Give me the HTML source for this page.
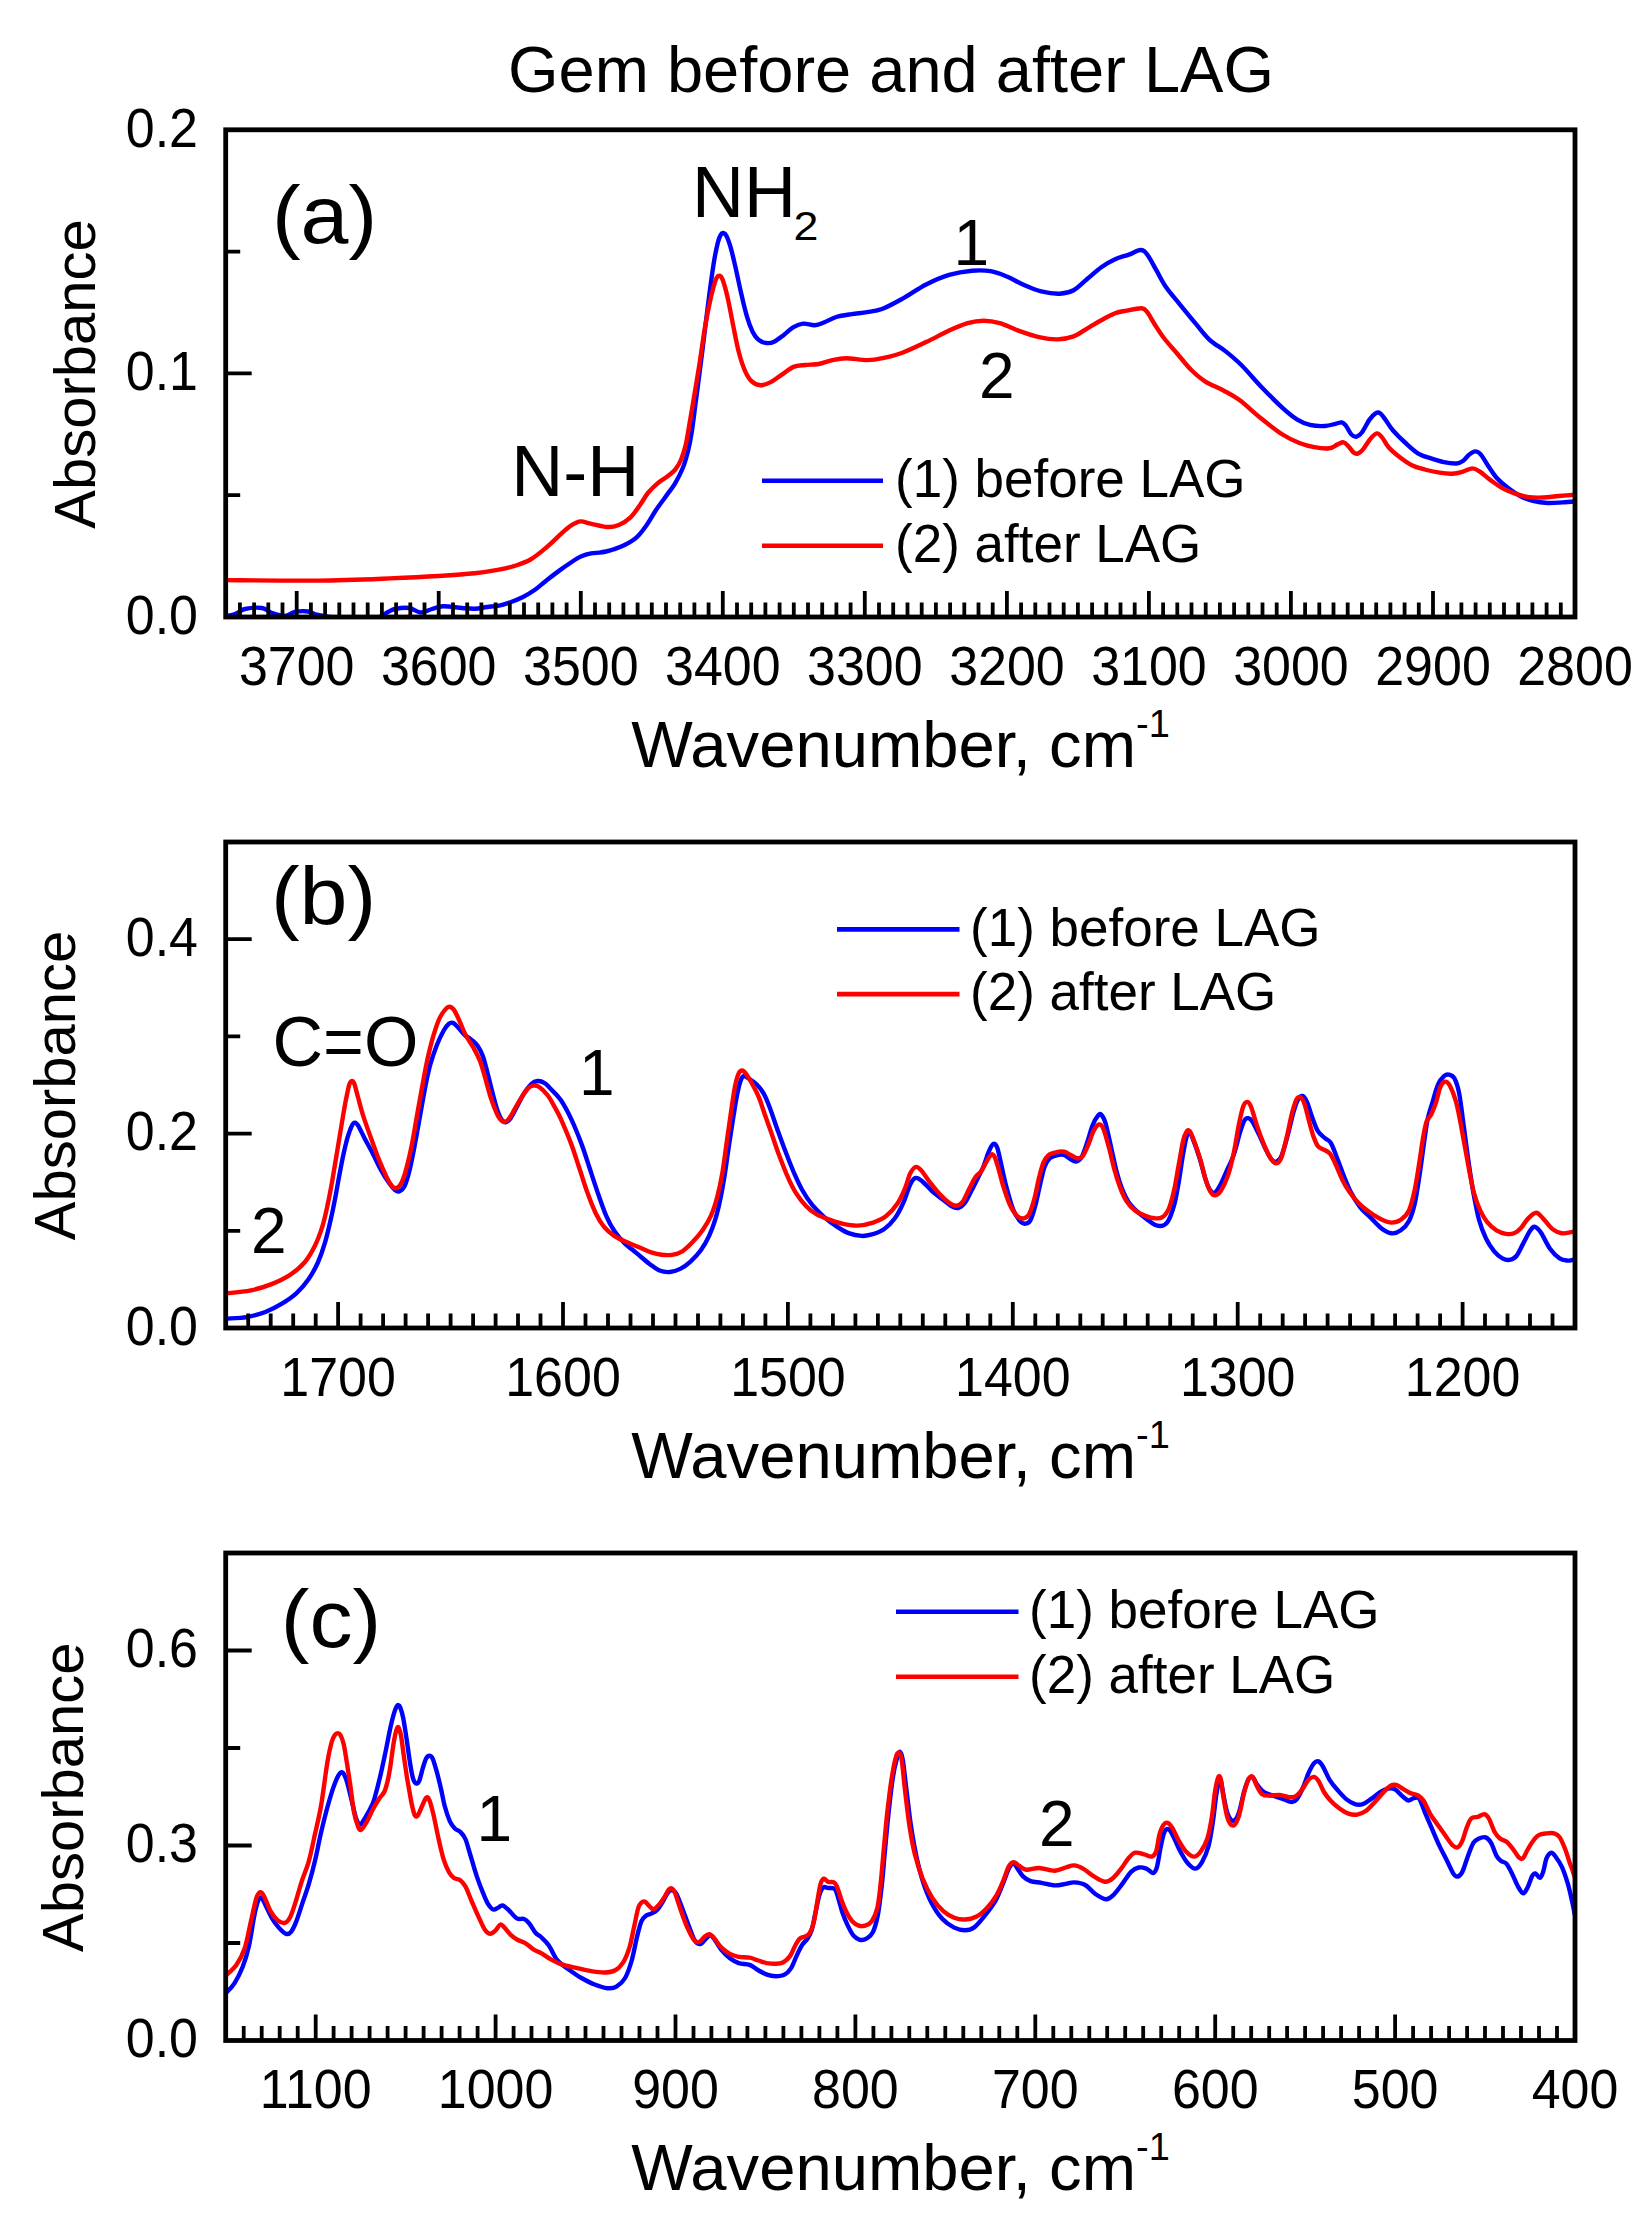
<!DOCTYPE html>
<html lang="en"><head><meta charset="utf-8"><title>Gem before and after LAG</title>
<style>html,body{margin:0;padding:0;background:#fff}body{width:1649px;height:2224px;overflow:hidden}svg{display:block}text{font-family:"Liberation Sans", sans-serif;fill:#000}</style></head><body>
<svg width="1649" height="2224" viewBox="0 0 1649 2224">
<rect width="1649" height="2224" fill="#fff"/>
<clipPath id="clip1"><rect x="225.7" y="129.8" width="1349.3" height="489.2"/></clipPath>
<g clip-path="url(#clip1)" fill="none" stroke-width="4.4" stroke-linejoin="round" stroke-linecap="round">
<path stroke="#0000ff" d="M222.0 617.0C224.2 616.5 231.2 615.3 235.0 614.0C238.8 612.7 240.5 610.0 245.0 609.0C249.5 608.0 257.5 607.3 262.0 608.0C266.5 608.7 268.2 611.7 272.0 613.0C275.8 614.3 281.2 616.2 285.0 616.0C288.8 615.8 291.2 612.8 295.0 612.0C298.8 611.2 304.2 611.0 308.0 611.5C311.8 612.0 312.7 613.9 318.0 615.0C323.3 616.1 330.5 617.5 340.0 618.0C349.5 618.5 367.0 619.0 375.0 618.0C383.0 617.0 384.7 613.5 388.0 612.0C391.3 610.5 391.5 609.7 395.0 609.0C398.5 608.3 404.7 607.4 409.0 608.0C413.3 608.6 417.2 612.3 421.0 612.5C424.8 612.7 428.3 610.0 432.0 609.0C435.7 608.0 438.0 606.5 443.0 606.3C448.0 606.1 456.7 607.6 462.0 608.0C467.3 608.4 470.8 608.9 475.0 608.7C479.2 608.5 483.0 607.5 487.0 607.0C491.0 606.5 495.0 606.4 499.0 605.6C503.0 604.8 507.0 603.4 511.0 602.0C515.0 600.6 519.0 599.0 523.0 597.0C527.0 595.0 531.0 592.6 535.0 589.8C539.0 587.0 542.9 583.2 547.0 580.0C551.1 576.8 555.5 573.4 559.6 570.4C563.7 567.4 568.1 564.4 571.7 562.0C575.3 559.6 578.2 557.7 581.4 556.3C584.6 554.9 588.0 554.0 591.0 553.4C594.0 552.8 596.9 552.9 599.4 552.6C601.9 552.3 603.7 552.0 606.0 551.5C608.3 551.0 609.9 550.6 613.0 549.5C616.1 548.4 620.7 547.0 624.6 545.0C628.5 543.0 632.7 540.9 636.3 537.7C639.9 534.5 642.8 530.5 646.0 526.0C649.2 521.5 652.5 515.4 655.7 510.5C658.9 505.6 662.2 501.4 665.4 496.9C668.6 492.4 672.2 488.1 675.1 483.3C678.0 478.5 680.8 473.0 682.9 467.8C685.0 462.6 686.2 458.1 687.7 452.3C689.2 446.5 690.3 441.0 691.6 432.9C692.9 424.8 694.2 413.5 695.5 403.8C696.8 394.1 697.8 386.0 699.3 374.7C700.8 363.4 702.6 348.8 704.2 335.8C705.8 322.9 707.4 309.3 709.0 297.0C710.6 284.7 712.4 271.2 713.9 262.1C715.4 253.1 716.7 247.2 717.8 242.7C718.9 238.2 719.8 236.5 720.7 234.9C721.6 233.3 722.2 232.8 723.2 233.0C724.2 233.2 725.3 233.6 726.5 235.9C727.7 238.2 728.9 241.6 730.4 246.6C731.9 251.6 733.4 258.2 735.2 266.0C737.0 273.8 739.2 284.7 741.1 293.1C743.0 301.5 745.0 309.9 746.9 316.4C748.8 322.9 750.8 328.1 752.7 332.0C754.6 335.9 756.2 337.9 758.5 339.7C760.8 341.5 763.7 342.7 766.3 343.0C768.9 343.3 771.2 343.1 774.1 341.7C777.0 340.3 780.6 337.3 783.8 334.9C787.0 332.5 790.3 329.0 793.5 327.1C796.7 325.2 799.7 323.9 803.2 323.6C806.8 323.3 811.2 325.4 814.8 325.2C818.3 325.0 820.9 323.7 824.5 322.3C828.1 320.9 831.7 318.4 836.2 317.0C840.7 315.6 846.5 314.9 851.7 314.1C856.9 313.3 862.0 313.1 867.2 312.2C872.4 311.3 876.7 311.0 882.7 308.7C888.7 306.4 895.8 302.4 903.0 298.4C910.2 294.4 918.4 288.4 926.1 284.5C933.8 280.6 941.4 277.2 949.1 274.9C956.8 272.6 965.3 271.3 972.2 270.7C979.1 270.1 984.8 270.2 990.6 271.2C996.4 272.2 1001.4 274.3 1006.8 276.5C1012.2 278.7 1017.1 282.0 1022.9 284.5C1028.7 287.0 1035.1 289.9 1041.3 291.4C1047.5 292.9 1054.4 293.9 1059.8 293.7C1065.2 293.5 1069.0 292.8 1073.6 290.3C1078.2 287.8 1082.8 282.7 1087.4 278.8C1092.0 274.9 1096.7 270.5 1101.3 267.2C1105.9 263.9 1110.5 261.3 1115.1 259.2C1119.7 257.1 1124.7 256.1 1128.9 254.6C1133.1 253.1 1137.3 250.0 1140.4 250.0C1143.5 250.0 1144.6 251.2 1147.3 254.6C1150.0 258.1 1153.5 265.3 1156.6 270.7C1159.7 276.1 1162.0 281.2 1165.8 286.8C1169.6 292.4 1174.6 298.0 1179.6 304.1C1184.6 310.2 1190.7 317.8 1195.7 323.7C1200.7 329.6 1204.6 335.2 1209.6 339.8C1214.6 344.4 1220.3 347.1 1225.7 351.4C1231.1 355.7 1235.9 359.6 1241.8 365.5C1247.7 371.4 1254.4 379.6 1261.2 386.7C1268.0 393.8 1276.5 402.4 1282.5 407.9C1288.5 413.4 1292.7 416.8 1297.3 419.6C1301.9 422.4 1305.4 423.8 1310.0 424.9C1314.6 426.0 1320.7 426.2 1324.9 426.0C1329.2 425.8 1332.7 424.4 1335.5 423.8C1338.3 423.2 1340.1 422.0 1341.9 422.4C1343.7 422.8 1344.5 424.0 1346.1 426.0C1347.7 428.0 1349.6 432.7 1351.4 434.5C1353.2 436.3 1354.9 437.0 1356.7 436.6C1358.5 436.2 1360.0 435.1 1362.1 432.3C1364.2 429.5 1367.2 422.8 1369.5 419.6C1371.8 416.4 1374.1 414.3 1375.9 413.2C1377.7 412.1 1378.5 412.1 1380.1 413.2C1381.7 414.3 1383.3 416.8 1385.4 419.6C1387.5 422.4 1389.4 426.3 1392.8 430.2C1396.2 434.1 1401.3 439.1 1405.6 443.0C1409.8 446.9 1414.1 451.0 1418.3 453.6C1422.5 456.2 1426.8 457.0 1431.0 458.4C1435.2 459.8 1439.5 461.2 1443.8 462.1C1448.0 463.0 1453.3 463.7 1456.5 463.5C1459.7 463.3 1460.8 462.5 1462.9 461.0C1465.0 459.5 1467.2 456.2 1469.3 454.6C1471.3 453.0 1473.3 451.4 1475.2 451.4C1477.1 451.4 1478.7 452.1 1480.9 454.6C1483.1 457.1 1485.8 462.4 1488.4 466.3C1491.1 470.2 1493.6 474.5 1496.8 478.0C1500.0 481.5 1503.6 484.5 1507.5 487.5C1511.4 490.5 1516.0 493.8 1520.2 496.0C1524.4 498.2 1528.3 499.7 1532.9 500.9C1537.5 502.1 1542.8 502.8 1547.8 503.0C1552.8 503.2 1557.6 502.7 1562.6 502.4C1567.6 502.1 1575.4 501.5 1578.0 501.3"/>
<path stroke="#ff0000" d="M222.0 580.1C237.8 580.2 289.0 580.9 317.0 580.6C345.0 580.3 369.6 579.2 389.8 578.4C410.0 577.6 424.2 576.9 438.3 576.0C452.4 575.1 464.6 574.3 474.7 573.3C484.8 572.2 492.1 571.0 499.0 569.7C505.9 568.4 510.8 567.2 516.0 565.5C521.2 563.8 525.7 562.3 530.5 559.5C535.3 556.7 540.1 552.6 545.0 548.6C549.9 544.6 555.6 538.9 559.6 535.2C563.6 531.6 566.5 528.8 569.3 526.7C572.1 524.6 574.6 523.3 576.6 522.4C578.6 521.5 578.9 521.2 581.4 521.4C583.9 521.6 587.3 522.9 591.6 523.8C595.9 524.7 602.7 526.8 607.2 527.0C611.7 527.2 614.9 526.6 618.8 525.0C622.7 523.4 626.9 520.7 630.5 517.3C634.1 513.9 637.3 508.8 640.2 504.7C643.1 500.6 645.0 496.6 647.9 493.0C650.8 489.4 654.4 486.1 657.6 483.3C660.8 480.6 664.4 478.8 667.3 476.5C670.2 474.2 672.8 472.4 675.1 469.7C677.4 466.9 679.1 464.2 680.9 460.0C682.7 455.8 684.3 450.6 685.8 444.5C687.2 438.4 688.1 431.6 689.6 423.2C691.1 414.8 692.9 403.7 694.5 394.0C696.1 384.3 697.5 376.3 699.3 365.0C701.1 353.7 703.2 337.4 705.2 326.1C707.2 314.8 709.2 304.8 711.0 297.0C712.8 289.2 714.4 283.2 715.8 279.6C717.2 276.1 718.2 275.7 719.3 275.7C720.4 275.7 721.2 276.1 722.6 279.6C724.0 283.2 725.7 289.2 727.5 297.0C729.3 304.8 731.4 316.7 733.3 326.1C735.2 335.5 737.1 345.9 739.1 353.3C741.1 360.8 742.9 366.1 745.0 370.8C747.1 375.5 749.1 379.0 751.7 381.4C754.3 383.8 757.4 385.1 760.5 385.3C763.6 385.5 766.7 384.2 770.2 382.4C773.8 380.6 777.9 377.2 781.8 374.6C785.7 372.0 789.6 368.5 793.5 366.9C797.4 365.3 800.9 365.5 805.1 365.0C809.3 364.5 814.2 364.8 818.7 364.0C823.2 363.2 827.8 361.1 832.3 360.1C836.8 359.1 840.1 358.2 845.9 358.2C851.7 358.2 861.1 360.1 867.2 360.1C873.3 360.1 876.7 359.5 882.7 358.2C888.7 356.9 895.8 355.2 903.0 352.5C910.2 349.8 918.4 345.8 926.1 342.1C933.8 338.5 942.2 333.8 949.1 330.6C956.0 327.5 961.8 324.9 967.6 323.2C973.4 321.5 978.3 320.7 983.7 320.7C989.1 320.7 994.0 321.5 999.8 323.2C1005.6 324.9 1011.8 328.3 1018.3 330.6C1024.8 332.9 1032.5 335.6 1039.0 337.1C1045.5 338.6 1051.7 339.5 1057.5 339.4C1063.3 339.3 1068.6 338.2 1073.6 336.4C1078.6 334.5 1082.8 331.0 1087.4 328.3C1092.0 325.6 1096.7 322.7 1101.3 320.2C1105.9 317.7 1110.9 314.9 1115.1 313.3C1119.3 311.7 1122.2 311.4 1126.6 310.6C1131.0 309.8 1138.1 308.0 1141.6 308.3C1145.0 308.6 1145.2 309.6 1147.3 312.2C1149.4 314.8 1151.6 319.5 1154.3 323.7C1157.0 327.9 1159.7 332.5 1163.5 337.5C1167.3 342.5 1172.7 348.3 1177.3 353.7C1181.9 359.1 1186.5 365.2 1191.1 369.8C1195.7 374.4 1199.6 377.9 1205.0 381.3C1210.4 384.8 1217.7 387.4 1223.4 390.5C1229.2 393.6 1233.2 395.4 1239.5 400.1C1245.8 404.8 1254.0 412.8 1261.2 418.5C1268.4 424.2 1276.1 430.4 1282.5 434.5C1288.9 438.6 1294.1 440.9 1299.4 443.0C1304.7 445.1 1309.3 446.3 1314.3 447.2C1319.3 448.1 1325.3 448.8 1329.2 448.3C1333.1 447.8 1335.2 445.4 1337.6 444.4C1340.0 443.4 1341.8 442.0 1343.6 442.3C1345.4 442.6 1346.6 444.4 1348.3 446.1C1350.0 447.8 1352.0 451.2 1353.6 452.5C1355.2 453.8 1356.2 454.1 1357.8 453.6C1359.4 453.1 1361.0 451.8 1363.1 449.3C1365.2 446.8 1368.2 441.4 1370.5 438.7C1372.8 436.0 1375.0 433.6 1376.9 433.4C1378.9 433.2 1380.2 435.3 1382.2 437.6C1384.2 439.9 1385.8 444.0 1388.6 447.2C1391.4 450.4 1395.3 453.7 1399.2 456.7C1403.1 459.7 1407.7 463.1 1411.9 465.2C1416.2 467.3 1420.1 468.2 1424.7 469.5C1429.3 470.8 1434.9 472.0 1439.5 472.7C1444.1 473.4 1448.4 473.9 1452.3 473.7C1456.2 473.5 1459.6 472.5 1462.9 471.6C1466.2 470.7 1469.6 468.4 1472.4 468.4C1475.2 468.4 1476.9 469.7 1479.9 471.6C1482.9 473.6 1486.6 477.3 1490.5 480.1C1494.4 482.9 1499.0 486.3 1503.2 488.6C1507.4 490.9 1511.7 492.5 1515.9 493.9C1520.2 495.3 1524.1 496.5 1528.7 497.1C1533.3 497.7 1538.5 497.7 1543.5 497.5C1548.5 497.3 1552.7 496.5 1558.4 496.0C1564.2 495.5 1574.7 494.8 1578.0 494.5"/>
</g>
<path d="M239.9 617.0 v-14.5M254.1 617.0 v-14.5M268.3 617.0 v-14.5M282.5 617.0 v-14.5M296.7 617.0 v-26.0M310.9 617.0 v-14.5M325.1 617.0 v-14.5M339.3 617.0 v-14.5M353.5 617.0 v-14.5M367.7 617.0 v-14.5M381.9 617.0 v-14.5M396.1 617.0 v-14.5M410.3 617.0 v-14.5M424.5 617.0 v-14.5M438.7 617.0 v-26.0M453.0 617.0 v-14.5M467.2 617.0 v-14.5M481.4 617.0 v-14.5M495.6 617.0 v-14.5M509.8 617.0 v-14.5M524.0 617.0 v-14.5M538.2 617.0 v-14.5M552.4 617.0 v-14.5M566.6 617.0 v-14.5M580.8 617.0 v-26.0M595.0 617.0 v-14.5M609.2 617.0 v-14.5M623.4 617.0 v-14.5M637.6 617.0 v-14.5M651.8 617.0 v-14.5M666.0 617.0 v-14.5M680.2 617.0 v-14.5M694.4 617.0 v-14.5M708.6 617.0 v-14.5M722.8 617.0 v-26.0M737.0 617.0 v-14.5M751.2 617.0 v-14.5M765.4 617.0 v-14.5M779.6 617.0 v-14.5M793.8 617.0 v-14.5M808.0 617.0 v-14.5M822.2 617.0 v-14.5M836.4 617.0 v-14.5M850.6 617.0 v-14.5M864.8 617.0 v-26.0M879.0 617.0 v-14.5M893.2 617.0 v-14.5M907.5 617.0 v-14.5M921.7 617.0 v-14.5M935.9 617.0 v-14.5M950.1 617.0 v-14.5M964.3 617.0 v-14.5M978.5 617.0 v-14.5M992.7 617.0 v-14.5M1006.9 617.0 v-26.0M1021.1 617.0 v-14.5M1035.3 617.0 v-14.5M1049.5 617.0 v-14.5M1063.7 617.0 v-14.5M1077.9 617.0 v-14.5M1092.1 617.0 v-14.5M1106.3 617.0 v-14.5M1120.5 617.0 v-14.5M1134.7 617.0 v-14.5M1148.9 617.0 v-26.0M1163.1 617.0 v-14.5M1177.3 617.0 v-14.5M1191.5 617.0 v-14.5M1205.7 617.0 v-14.5M1219.9 617.0 v-14.5M1234.1 617.0 v-14.5M1248.3 617.0 v-14.5M1262.5 617.0 v-14.5M1276.7 617.0 v-14.5M1290.9 617.0 v-26.0M1305.1 617.0 v-14.5M1319.3 617.0 v-14.5M1333.5 617.0 v-14.5M1347.7 617.0 v-14.5M1362.0 617.0 v-14.5M1376.2 617.0 v-14.5M1390.4 617.0 v-14.5M1404.6 617.0 v-14.5M1418.8 617.0 v-14.5M1433.0 617.0 v-26.0M1447.2 617.0 v-14.5M1461.4 617.0 v-14.5M1475.6 617.0 v-14.5M1489.8 617.0 v-14.5M1504.0 617.0 v-14.5M1518.2 617.0 v-14.5M1532.4 617.0 v-14.5M1546.6 617.0 v-14.5M1560.8 617.0 v-14.5M225.7 373.4 h26.0M225.7 495.2 h14.5M225.7 251.6 h14.5" stroke="#000" stroke-width="3.8" fill="none"/>
<rect x="225.7" y="129.8" width="1349.3" height="487.2" fill="none" stroke="#000" stroke-width="4.8"/>
<path d="M762 480.7H883" stroke="#0000ff" stroke-width="4.6" fill="none"/>
<path d="M762 545.7H883" stroke="#ff0000" stroke-width="4.6" fill="none"/>
<clipPath id="clip2"><rect x="225.7" y="842.0" width="1349.3" height="488.0"/></clipPath>
<g clip-path="url(#clip2)" fill="none" stroke-width="4.4" stroke-linejoin="round" stroke-linecap="round">
<path stroke="#0000ff" d="M222.0 1318.8C222.7 1318.8 222.1 1318.9 226.2 1318.6C230.3 1318.3 240.3 1318.2 246.8 1317.1C253.3 1316.0 259.5 1314.2 265.4 1312.0C271.2 1309.8 276.8 1306.8 281.9 1303.7C287.0 1300.6 291.8 1297.5 296.3 1293.4C300.8 1289.3 305.1 1284.2 308.7 1279.0C312.3 1273.8 315.1 1268.7 317.9 1262.5C320.6 1256.3 323.0 1249.5 325.2 1241.9C327.4 1234.3 329.6 1224.7 331.3 1217.1C333.0 1209.5 334.1 1203.7 335.5 1196.5C336.9 1189.3 338.2 1181.0 339.6 1173.8C341.0 1166.6 342.3 1159.4 343.7 1153.2C345.1 1147.0 346.4 1141.3 347.8 1136.7C349.2 1132.1 350.8 1127.7 352.0 1125.4C353.2 1123.1 354.0 1122.5 355.1 1122.7C356.2 1122.9 357.1 1123.9 358.6 1126.4C360.1 1128.9 362.0 1133.2 364.3 1137.7C366.6 1142.2 369.9 1147.9 372.6 1153.2C375.4 1158.5 378.1 1164.7 380.8 1169.7C383.6 1174.7 386.7 1179.7 389.1 1183.1C391.5 1186.5 393.6 1188.9 395.3 1190.3C397.0 1191.7 397.9 1192.0 399.4 1191.3C400.9 1190.6 402.8 1189.8 404.5 1186.2C406.2 1182.6 408.0 1176.6 409.7 1169.7C411.4 1162.8 413.1 1153.8 414.8 1144.9C416.5 1136.0 418.3 1125.7 420.0 1116.1C421.7 1106.5 423.5 1095.8 425.2 1087.2C426.9 1078.6 428.4 1071.4 430.3 1064.5C432.2 1057.6 434.3 1051.7 436.5 1046.0C438.7 1040.3 441.6 1034.2 443.7 1030.5C445.8 1026.8 447.3 1025.0 448.9 1023.7C450.4 1022.4 451.5 1022.3 453.0 1022.9C454.5 1023.5 456.2 1025.5 458.1 1027.4C460.0 1029.4 462.1 1032.5 464.3 1034.6C466.5 1036.7 469.3 1037.9 471.5 1039.8C473.7 1041.7 475.8 1043.2 477.7 1046.0C479.6 1048.8 481.2 1051.5 482.9 1056.3C484.6 1061.1 486.3 1068.3 488.0 1074.8C489.7 1081.3 491.6 1089.7 493.2 1095.5C494.8 1101.3 495.9 1106.0 497.3 1109.9C498.7 1113.9 500.0 1117.1 501.4 1119.2C502.8 1121.3 504.1 1122.5 505.6 1122.3C507.2 1122.1 508.8 1120.7 510.7 1118.1C512.6 1115.5 514.7 1110.9 516.9 1106.8C519.1 1102.7 521.7 1097.2 524.1 1093.4C526.5 1089.6 529.1 1086.2 531.3 1084.1C533.5 1082.0 535.3 1081.2 537.5 1081.0C539.7 1080.8 542.6 1081.8 544.7 1083.1C546.8 1084.3 547.6 1085.7 550.3 1088.5C552.9 1091.3 557.2 1094.8 560.6 1099.8C564.0 1104.8 567.5 1111.2 570.9 1118.4C574.3 1125.6 578.1 1134.9 581.2 1143.1C584.3 1151.3 586.8 1159.5 589.5 1167.8C592.2 1176.0 595.0 1184.7 597.7 1192.6C600.5 1200.5 603.2 1208.9 606.0 1215.3C608.8 1221.7 611.1 1226.1 614.2 1230.7C617.3 1235.3 620.7 1239.3 624.5 1243.1C628.3 1246.9 632.8 1250.0 636.9 1253.4C641.0 1256.8 645.5 1260.9 649.3 1263.7C653.1 1266.5 656.2 1269.1 659.6 1270.5C663.0 1271.9 666.5 1272.3 669.9 1272.0C673.3 1271.7 676.8 1270.6 680.2 1268.9C683.6 1267.2 687.1 1264.7 690.5 1261.6C693.9 1258.5 697.7 1254.6 700.8 1250.3C703.9 1246.0 706.7 1241.1 709.1 1235.9C711.5 1230.8 713.4 1225.6 715.3 1219.4C717.2 1213.2 718.9 1206.0 720.4 1198.8C721.9 1191.6 723.1 1184.7 724.5 1176.1C725.9 1167.5 727.3 1156.5 728.7 1147.2C730.1 1137.9 731.4 1129.0 732.8 1120.4C734.2 1111.8 735.6 1102.2 736.9 1095.7C738.2 1089.2 739.3 1084.5 740.4 1081.2C741.5 1077.9 742.4 1076.6 743.7 1076.1C745.0 1075.6 746.1 1076.7 748.2 1078.1C750.3 1079.5 753.9 1081.7 756.5 1084.3C759.1 1086.9 761.5 1089.6 763.7 1093.6C765.9 1097.5 767.7 1102.2 769.9 1108.0C772.1 1113.8 774.5 1121.5 777.1 1128.7C779.7 1135.9 782.6 1144.1 785.4 1151.3C788.1 1158.5 790.9 1165.6 793.6 1172.0C796.4 1178.4 798.8 1184.0 801.9 1189.5C805.0 1195.0 808.4 1200.3 812.2 1204.9C816.0 1209.5 820.4 1213.7 824.5 1217.3C828.6 1220.9 832.8 1223.9 836.9 1226.6C841.0 1229.3 845.2 1231.9 849.3 1233.4C853.4 1235.0 858.0 1235.7 861.6 1235.9C865.2 1236.1 867.2 1235.8 870.9 1234.7C874.6 1233.6 880.0 1231.9 884.0 1229.2C888.0 1226.5 891.6 1222.8 894.9 1218.3C898.2 1213.8 901.2 1207.6 903.7 1201.9C906.2 1196.2 908.2 1188.4 910.2 1184.4C912.2 1180.4 913.7 1178.4 915.7 1177.9C917.7 1177.4 919.5 1179.0 922.2 1181.2C924.9 1183.4 928.5 1187.9 932.0 1191.0C935.5 1194.1 939.7 1197.2 943.0 1199.7C946.3 1202.2 949.2 1204.9 951.7 1206.3C954.2 1207.7 956.0 1208.5 958.2 1208.0C960.4 1207.5 962.6 1205.8 964.8 1203.0C967.0 1200.2 969.1 1195.2 971.3 1191.0C973.5 1186.8 975.9 1181.9 977.9 1177.9C979.9 1173.9 981.5 1171.4 983.3 1167.0C985.1 1162.6 987.1 1155.5 988.8 1151.7C990.4 1147.9 991.8 1144.7 993.2 1144.0C994.6 1143.3 995.8 1144.2 997.1 1147.3C998.4 1150.4 999.3 1156.0 1000.8 1162.6C1002.3 1169.1 1004.3 1178.9 1006.3 1186.6C1008.3 1194.2 1010.6 1202.8 1012.8 1208.5C1015.0 1214.2 1017.4 1218.0 1019.4 1220.5C1021.4 1223.0 1023.0 1223.7 1024.8 1223.7C1026.6 1223.7 1028.5 1223.8 1030.3 1220.5C1032.1 1217.2 1034.1 1210.1 1035.7 1204.1C1037.3 1198.1 1038.6 1190.6 1040.1 1184.4C1041.6 1178.2 1042.9 1171.4 1044.5 1167.0C1046.1 1162.6 1047.7 1160.2 1049.9 1158.2C1052.1 1156.2 1055.2 1155.5 1057.6 1155.0C1060.0 1154.5 1061.9 1154.3 1064.1 1155.0C1066.3 1155.7 1068.7 1158.2 1070.7 1159.3C1072.7 1160.4 1074.3 1161.9 1076.1 1161.5C1077.9 1161.1 1079.8 1160.2 1081.6 1157.1C1083.4 1154.0 1085.2 1148.3 1087.0 1143.0C1088.8 1137.7 1090.7 1130.0 1092.5 1125.5C1094.3 1121.0 1096.5 1117.5 1098.0 1115.7C1099.5 1113.9 1099.9 1113.3 1101.2 1114.6C1102.5 1115.9 1103.9 1117.8 1105.6 1123.3C1107.2 1128.8 1109.3 1139.3 1111.1 1147.3C1112.9 1155.3 1114.7 1164.4 1116.5 1171.3C1118.3 1178.2 1120.0 1183.7 1122.0 1188.8C1124.0 1193.9 1126.0 1198.1 1128.5 1201.9C1131.0 1205.7 1134.2 1208.8 1137.3 1211.7C1140.4 1214.6 1144.2 1217.2 1147.1 1219.4C1150.0 1221.6 1152.3 1223.7 1154.7 1224.8C1157.1 1225.9 1159.1 1226.4 1161.3 1225.9C1163.5 1225.4 1165.6 1225.2 1167.8 1221.6C1170.0 1218.0 1172.6 1210.6 1174.4 1204.1C1176.2 1197.5 1177.2 1190.7 1178.7 1182.3C1180.2 1173.9 1181.7 1161.7 1183.1 1153.9C1184.5 1146.1 1185.8 1138.8 1187.0 1135.3C1188.2 1131.8 1188.9 1132.0 1190.1 1133.1C1191.3 1134.2 1192.3 1137.5 1194.0 1141.9C1195.7 1146.3 1198.0 1153.1 1200.0 1159.5C1202.0 1165.9 1204.0 1174.9 1205.8 1180.1C1207.5 1185.3 1209.0 1188.5 1210.5 1190.6C1212.0 1192.7 1213.0 1193.7 1214.5 1192.9C1216.0 1192.1 1217.8 1189.6 1219.8 1185.9C1221.8 1182.2 1224.4 1176.0 1226.8 1170.7C1229.2 1165.5 1231.8 1160.6 1233.9 1154.4C1236.1 1148.2 1238.0 1139.1 1239.7 1133.4C1241.5 1127.8 1243.0 1123.0 1244.4 1120.5C1245.8 1118.0 1247.0 1118.0 1248.3 1118.2C1249.6 1118.4 1250.8 1119.2 1252.5 1121.7C1254.2 1124.2 1256.2 1128.9 1258.4 1133.4C1260.6 1137.9 1263.3 1144.3 1265.4 1148.6C1267.5 1152.9 1269.5 1156.9 1271.2 1159.1C1273.0 1161.3 1274.2 1162.3 1275.9 1161.9C1277.6 1161.5 1279.2 1161.1 1281.2 1156.7C1283.2 1152.3 1285.6 1143.1 1287.6 1135.7C1289.6 1128.3 1291.7 1118.4 1293.4 1112.4C1295.2 1106.4 1296.5 1102.2 1298.1 1099.5C1299.6 1096.8 1301.2 1095.6 1302.7 1096.0C1304.2 1096.4 1305.3 1098.4 1306.9 1101.9C1308.5 1105.4 1310.3 1112.1 1312.1 1117.0C1313.9 1121.9 1315.8 1127.6 1317.9 1131.1C1320.0 1134.6 1322.8 1136.2 1324.9 1138.1C1327.0 1140.0 1328.8 1139.6 1330.7 1142.7C1332.7 1145.8 1334.4 1151.2 1336.6 1156.7C1338.8 1162.2 1341.3 1169.6 1343.6 1175.4C1345.9 1181.2 1347.9 1186.5 1350.6 1191.8C1353.3 1197.0 1356.6 1202.6 1359.9 1206.9C1363.2 1211.2 1366.9 1213.9 1370.4 1217.4C1373.9 1220.9 1377.4 1225.2 1380.9 1227.9C1384.4 1230.6 1388.2 1232.9 1391.5 1233.3C1394.8 1233.7 1397.9 1232.4 1400.8 1230.3C1403.7 1228.2 1406.7 1225.4 1409.0 1220.9C1411.3 1216.4 1413.0 1211.0 1414.8 1203.4C1416.5 1195.8 1418.0 1185.1 1419.5 1175.4C1421.0 1165.7 1422.4 1154.4 1423.7 1145.1C1425.0 1135.8 1426.2 1126.4 1427.6 1119.4C1429.0 1112.4 1430.5 1108.8 1432.3 1103.0C1434.0 1097.2 1436.1 1088.9 1438.1 1084.4C1440.0 1079.9 1442.2 1077.8 1444.0 1076.2C1445.8 1074.6 1447.0 1074.2 1448.7 1074.6C1450.5 1075.0 1452.8 1075.3 1454.5 1078.5C1456.2 1081.7 1457.7 1085.7 1459.2 1093.7C1460.8 1101.7 1462.2 1115.1 1463.8 1126.4C1465.3 1137.7 1466.9 1150.5 1468.5 1161.4C1470.1 1172.3 1471.5 1182.1 1473.2 1191.8C1475.0 1201.5 1476.9 1212.0 1479.0 1219.8C1481.1 1227.6 1483.5 1233.2 1486.0 1238.5C1488.5 1243.8 1491.5 1248.0 1494.2 1251.3C1496.9 1254.6 1499.9 1256.9 1502.4 1258.3C1504.9 1259.7 1507.1 1260.3 1509.4 1259.9C1511.7 1259.5 1514.1 1258.8 1516.4 1256.0C1518.7 1253.2 1521.1 1247.4 1523.4 1243.1C1525.7 1238.8 1528.5 1233.0 1530.4 1230.3C1532.3 1227.6 1533.2 1226.4 1535.0 1226.8C1536.8 1227.2 1538.4 1228.9 1540.9 1232.6C1543.4 1236.3 1547.1 1244.7 1550.2 1249.0C1553.3 1253.3 1556.7 1256.4 1559.6 1258.3C1562.5 1260.2 1565.6 1260.3 1567.7 1260.6C1569.8 1260.9 1570.5 1260.2 1572.4 1259.9C1574.3 1259.6 1577.9 1258.7 1579.0 1258.5"/>
<path stroke="#ff0000" d="M222.0 1293.6C222.7 1293.6 221.4 1294.0 226.2 1293.4C231.0 1292.9 243.3 1291.8 250.9 1290.3C258.4 1288.8 265.0 1286.7 271.5 1284.1C278.0 1281.5 284.6 1278.4 290.1 1274.8C295.6 1271.2 300.4 1267.3 304.5 1262.5C308.6 1257.7 311.9 1251.8 314.8 1246.0C317.7 1240.2 320.0 1233.9 322.1 1227.4C324.2 1220.9 325.7 1213.7 327.2 1206.8C328.7 1199.9 329.9 1193.8 331.3 1186.2C332.7 1178.6 334.1 1169.7 335.5 1161.4C336.9 1153.2 338.2 1144.9 339.6 1136.7C341.0 1128.5 342.5 1118.9 343.7 1112.0C344.9 1105.1 345.8 1100.2 346.8 1095.5C347.8 1090.8 348.6 1086.5 349.5 1084.1C350.4 1081.7 351.2 1081.0 352.0 1081.0C352.8 1081.0 353.4 1081.3 354.4 1084.1C355.4 1086.8 356.6 1092.2 358.1 1097.5C359.6 1102.8 361.2 1109.6 363.3 1116.1C365.4 1122.6 367.9 1129.5 370.5 1136.7C373.1 1143.9 376.1 1152.5 378.8 1159.4C381.6 1166.3 384.8 1173.4 387.0 1177.9C389.2 1182.4 390.6 1184.5 392.2 1186.2C393.8 1187.9 394.8 1188.7 396.3 1188.2C397.8 1187.7 399.7 1186.5 401.4 1183.1C403.1 1179.7 404.9 1174.0 406.6 1167.6C408.3 1161.2 410.1 1153.5 411.8 1144.9C413.5 1136.3 415.2 1125.7 416.9 1116.1C418.6 1106.5 420.4 1096.5 422.1 1087.2C423.8 1077.9 425.3 1069.0 427.2 1060.4C429.1 1051.8 431.3 1042.8 433.4 1035.7C435.5 1028.7 437.5 1022.6 439.6 1018.1C441.7 1013.6 444.1 1010.8 445.8 1008.9C447.5 1007.0 448.5 1006.6 449.9 1006.8C451.3 1007.0 452.4 1007.7 454.0 1009.9C455.6 1012.1 457.3 1016.1 459.2 1020.2C461.1 1024.3 463.0 1030.0 465.4 1034.6C467.8 1039.2 471.2 1043.7 473.6 1048.0C476.0 1052.3 477.9 1055.6 479.8 1060.4C481.7 1065.2 483.2 1071.1 484.9 1076.9C486.6 1082.8 488.4 1090.0 490.1 1095.5C491.8 1101.0 493.8 1106.1 495.3 1109.9C496.9 1113.7 497.9 1116.1 499.4 1118.1C500.9 1120.1 502.6 1121.7 504.1 1121.9C505.7 1122.1 506.9 1121.4 508.7 1119.2C510.5 1117.0 512.6 1112.7 514.8 1108.9C517.0 1105.1 519.9 1100.0 522.1 1096.5C524.3 1093.0 526.3 1090.0 528.2 1088.2C530.1 1086.4 531.5 1085.8 533.4 1085.6C535.3 1085.4 537.2 1085.5 539.6 1087.2C542.0 1088.9 545.2 1092.1 547.8 1095.5C550.4 1098.9 553.0 1104.0 555.1 1107.8C557.2 1111.6 558.0 1112.5 560.6 1118.4C563.2 1124.3 567.8 1134.9 570.9 1143.1C574.0 1151.3 576.5 1159.5 579.2 1167.8C582.0 1176.0 584.6 1185.0 587.4 1192.6C590.1 1200.2 593.0 1207.5 595.7 1213.2C598.5 1218.9 600.8 1222.8 603.9 1226.6C607.0 1230.4 610.4 1233.3 614.2 1235.9C618.0 1238.5 622.5 1240.2 626.6 1242.1C630.7 1244.0 634.9 1245.5 639.0 1247.2C643.1 1248.9 647.5 1251.1 651.3 1252.4C655.1 1253.7 658.1 1254.4 661.6 1254.8C665.1 1255.2 668.5 1255.4 672.0 1254.8C675.5 1254.2 678.9 1253.4 682.3 1251.3C685.7 1249.2 689.2 1245.7 692.6 1242.1C696.0 1238.5 699.8 1234.2 702.9 1229.7C706.0 1225.2 708.7 1220.8 711.1 1215.3C713.5 1209.8 715.4 1203.9 717.3 1196.7C719.2 1189.5 721.0 1180.9 722.5 1172.0C724.0 1163.1 725.2 1152.7 726.6 1143.1C728.0 1133.5 729.3 1123.5 730.7 1114.2C732.1 1104.9 733.5 1094.1 734.8 1087.4C736.1 1080.7 737.2 1076.8 738.4 1074.0C739.6 1071.2 740.8 1070.5 742.1 1070.5C743.4 1070.5 744.5 1071.7 746.2 1074.0C747.9 1076.3 750.3 1080.5 752.4 1084.3C754.5 1088.1 756.5 1091.7 758.6 1096.7C760.7 1101.7 762.5 1107.9 764.7 1114.2C766.9 1120.5 769.6 1127.9 772.0 1134.8C774.4 1141.7 776.6 1148.6 779.2 1155.5C781.8 1162.4 784.6 1169.9 787.4 1176.1C790.1 1182.3 792.6 1187.6 795.7 1192.6C798.8 1197.6 802.6 1202.4 806.0 1206.0C809.4 1209.6 812.5 1212.0 816.3 1214.2C820.1 1216.4 824.2 1217.8 828.7 1219.4C833.2 1221.0 838.3 1222.9 843.1 1223.9C847.9 1224.9 852.5 1225.8 857.5 1225.6C862.5 1225.4 868.3 1224.2 873.1 1222.6C877.9 1221.0 882.2 1219.2 886.2 1216.1C890.2 1213.0 894.0 1208.6 897.1 1204.1C900.2 1199.5 902.6 1193.9 904.8 1188.8C907.0 1183.7 908.4 1177.1 910.2 1173.5C912.0 1169.9 913.9 1167.5 915.7 1167.0C917.5 1166.5 918.7 1167.7 921.1 1170.2C923.5 1172.8 926.6 1178.1 929.9 1182.3C933.2 1186.5 937.5 1192.0 940.8 1195.4C944.1 1198.9 947.0 1201.3 949.5 1203.0C952.0 1204.7 953.9 1206.0 956.1 1205.8C958.3 1205.6 960.4 1204.7 962.6 1201.9C964.8 1199.1 967.0 1193.0 969.2 1188.8C971.4 1184.6 973.7 1179.7 975.7 1176.8C977.7 1173.9 979.4 1173.8 981.2 1171.3C983.0 1168.8 985.0 1164.2 986.6 1161.5C988.2 1158.8 989.7 1155.9 991.0 1155.0C992.3 1154.1 993.0 1153.7 994.3 1156.1C995.6 1158.5 997.0 1163.8 998.6 1169.2C1000.2 1174.7 1002.1 1182.6 1004.1 1188.8C1006.1 1195.0 1008.4 1201.8 1010.6 1206.3C1012.8 1210.8 1015.0 1214.1 1017.2 1216.1C1019.4 1218.1 1021.7 1218.7 1023.7 1218.3C1025.7 1217.9 1027.4 1217.4 1029.2 1213.9C1031.0 1210.4 1033.1 1203.5 1034.7 1197.5C1036.3 1191.5 1037.5 1183.7 1039.0 1177.9C1040.5 1172.1 1041.8 1166.4 1043.4 1162.6C1045.0 1158.8 1046.6 1156.8 1048.8 1155.0C1051.0 1153.2 1054.0 1152.6 1056.5 1152.1C1059.0 1151.5 1061.7 1151.2 1064.1 1151.7C1066.5 1152.2 1068.5 1153.9 1070.7 1155.0C1072.9 1156.1 1075.2 1158.0 1077.2 1158.2C1079.2 1158.4 1080.9 1158.3 1082.7 1156.1C1084.5 1153.9 1086.3 1149.3 1088.1 1145.1C1089.9 1140.9 1091.8 1134.5 1093.6 1131.0C1095.4 1127.5 1097.5 1124.8 1099.1 1124.4C1100.7 1124.0 1101.8 1125.0 1103.4 1128.8C1105.0 1132.6 1107.1 1140.6 1108.9 1147.3C1110.7 1154.0 1112.5 1162.7 1114.3 1169.2C1116.1 1175.8 1117.8 1181.3 1119.8 1186.6C1121.8 1191.9 1123.8 1196.8 1126.3 1200.8C1128.8 1204.8 1131.8 1208.0 1135.1 1210.6C1138.4 1213.1 1142.7 1214.8 1146.0 1216.1C1149.3 1217.4 1152.0 1218.1 1154.7 1218.3C1157.4 1218.5 1160.0 1218.8 1162.4 1217.2C1164.8 1215.6 1166.9 1213.2 1168.9 1208.5C1170.9 1203.8 1172.8 1196.1 1174.4 1188.8C1176.0 1181.5 1177.2 1172.8 1178.7 1164.8C1180.2 1156.8 1181.8 1146.3 1183.1 1140.8C1184.4 1135.3 1185.3 1133.6 1186.4 1132.0C1187.5 1130.4 1188.3 1129.5 1189.6 1131.0C1190.9 1132.5 1192.3 1136.2 1194.0 1140.8C1195.7 1145.4 1198.0 1152.0 1200.0 1158.5C1202.0 1165.0 1204.0 1174.5 1205.8 1180.1C1207.5 1185.6 1208.9 1189.3 1210.5 1191.8C1212.1 1194.3 1213.5 1195.5 1215.2 1195.3C1217.0 1195.1 1218.9 1193.9 1221.0 1190.6C1223.1 1187.3 1225.8 1181.8 1228.0 1175.4C1230.2 1169.0 1232.2 1160.3 1233.9 1152.1C1235.7 1143.9 1237.0 1134.0 1238.5 1126.4C1240.0 1118.8 1241.7 1110.6 1243.2 1106.5C1244.7 1102.4 1246.0 1101.7 1247.4 1101.9C1248.8 1102.1 1249.8 1103.6 1251.4 1107.7C1253.0 1111.8 1255.1 1120.2 1257.2 1126.4C1259.3 1132.6 1261.9 1139.6 1264.2 1145.1C1266.5 1150.5 1269.1 1156.1 1271.2 1159.1C1273.3 1162.1 1274.8 1163.7 1276.6 1163.3C1278.3 1162.9 1279.9 1161.7 1281.7 1156.7C1283.5 1151.7 1285.8 1140.8 1287.6 1133.4C1289.3 1126.0 1290.7 1118.1 1292.2 1112.4C1293.7 1106.8 1295.0 1102.0 1296.4 1099.5C1297.8 1097.0 1299.0 1096.4 1300.4 1097.2C1301.8 1098.0 1303.2 1100.5 1304.6 1104.2C1306.0 1107.9 1307.2 1114.2 1308.6 1119.4C1310.0 1124.7 1311.7 1131.2 1313.2 1135.7C1314.8 1140.2 1316.2 1143.9 1317.9 1146.2C1319.7 1148.5 1321.8 1148.5 1323.7 1149.7C1325.7 1150.9 1327.6 1150.9 1329.6 1153.2C1331.5 1155.5 1333.3 1159.2 1335.4 1163.7C1337.5 1168.2 1340.1 1175.4 1342.4 1180.1C1344.7 1184.8 1346.7 1187.9 1349.4 1191.8C1352.1 1195.7 1355.3 1199.9 1358.8 1203.4C1362.3 1206.9 1366.5 1210.1 1370.4 1212.8C1374.3 1215.5 1378.6 1218.2 1382.1 1219.8C1385.6 1221.4 1388.4 1222.6 1391.5 1222.6C1394.6 1222.6 1397.9 1221.8 1400.8 1219.8C1403.7 1217.8 1406.7 1215.5 1409.0 1210.4C1411.3 1205.3 1413.0 1197.6 1414.8 1189.4C1416.5 1181.2 1418.1 1170.0 1419.5 1161.4C1420.9 1152.9 1421.8 1144.7 1423.0 1138.1C1424.2 1131.5 1425.2 1125.6 1426.5 1121.7C1427.8 1117.8 1429.5 1117.8 1431.1 1114.7C1432.6 1111.6 1434.2 1107.7 1435.8 1103.0C1437.4 1098.3 1438.9 1090.3 1440.5 1086.7C1442.1 1083.1 1443.7 1081.8 1445.2 1081.6C1446.8 1081.4 1448.0 1082.3 1449.8 1085.5C1451.5 1088.7 1454.0 1094.7 1455.7 1100.7C1457.5 1106.7 1458.8 1113.9 1460.3 1121.7C1461.8 1129.5 1463.4 1138.8 1465.0 1147.4C1466.6 1156.0 1468.2 1165.3 1469.7 1173.1C1471.2 1180.9 1472.5 1187.9 1474.3 1194.1C1476.0 1200.3 1478.0 1205.7 1480.2 1210.4C1482.4 1215.1 1484.5 1218.8 1487.2 1222.1C1489.9 1225.4 1493.4 1228.3 1496.5 1230.3C1499.6 1232.2 1503.0 1233.3 1505.9 1233.8C1508.8 1234.3 1511.5 1234.3 1514.0 1233.3C1516.5 1232.3 1518.7 1230.4 1521.0 1227.9C1523.3 1225.5 1525.5 1221.1 1528.0 1218.6C1530.5 1216.1 1533.7 1212.8 1536.2 1212.8C1538.7 1212.8 1540.5 1215.9 1543.2 1218.6C1545.9 1221.3 1549.4 1226.6 1552.5 1229.1C1555.6 1231.5 1558.6 1232.8 1561.9 1233.3C1565.2 1233.8 1569.6 1232.4 1572.4 1231.9C1575.2 1231.4 1577.9 1230.7 1579.0 1230.5"/>
</g>
<path d="M248.2 1328.0 v-14.5M270.7 1328.0 v-14.5M293.2 1328.0 v-14.5M315.7 1328.0 v-14.5M338.1 1328.0 v-26.0M360.6 1328.0 v-14.5M383.1 1328.0 v-14.5M405.6 1328.0 v-14.5M428.1 1328.0 v-14.5M450.6 1328.0 v-14.5M473.1 1328.0 v-14.5M495.6 1328.0 v-14.5M518.0 1328.0 v-14.5M540.5 1328.0 v-14.5M563.0 1328.0 v-26.0M585.5 1328.0 v-14.5M608.0 1328.0 v-14.5M630.5 1328.0 v-14.5M653.0 1328.0 v-14.5M675.5 1328.0 v-14.5M698.0 1328.0 v-14.5M720.4 1328.0 v-14.5M742.9 1328.0 v-14.5M765.4 1328.0 v-14.5M787.9 1328.0 v-26.0M810.4 1328.0 v-14.5M832.9 1328.0 v-14.5M855.4 1328.0 v-14.5M877.9 1328.0 v-14.5M900.3 1328.0 v-14.5M922.8 1328.0 v-14.5M945.3 1328.0 v-14.5M967.8 1328.0 v-14.5M990.3 1328.0 v-14.5M1012.8 1328.0 v-26.0M1035.3 1328.0 v-14.5M1057.8 1328.0 v-14.5M1080.3 1328.0 v-14.5M1102.7 1328.0 v-14.5M1125.2 1328.0 v-14.5M1147.7 1328.0 v-14.5M1170.2 1328.0 v-14.5M1192.7 1328.0 v-14.5M1215.2 1328.0 v-14.5M1237.7 1328.0 v-26.0M1260.2 1328.0 v-14.5M1282.7 1328.0 v-14.5M1305.1 1328.0 v-14.5M1327.6 1328.0 v-14.5M1350.1 1328.0 v-14.5M1372.6 1328.0 v-14.5M1395.1 1328.0 v-14.5M1417.6 1328.0 v-14.5M1440.1 1328.0 v-14.5M1462.6 1328.0 v-26.0M1485.0 1328.0 v-14.5M1507.5 1328.0 v-14.5M1530.0 1328.0 v-14.5M1552.5 1328.0 v-14.5M225.7 1133.6 h26.0M225.7 939.2 h26.0M225.7 1230.8 h14.5M225.7 1036.4 h14.5" stroke="#000" stroke-width="3.8" fill="none"/>
<rect x="225.7" y="842.0" width="1349.3" height="486.0" fill="none" stroke="#000" stroke-width="4.8"/>
<path d="M837 929.4H959.5" stroke="#0000ff" stroke-width="4.6" fill="none"/>
<path d="M837 994.1H959.5" stroke="#ff0000" stroke-width="4.6" fill="none"/>
<clipPath id="clip3"><rect x="225.7" y="1553.0" width="1349.3" height="489.5"/></clipPath>
<g clip-path="url(#clip3)" fill="none" stroke-width="4.4" stroke-linejoin="round" stroke-linecap="round">
<path stroke="#0000ff" d="M222.0 1996.0C222.7 1995.4 224.1 1994.7 226.2 1992.6C228.3 1990.5 231.7 1987.6 234.4 1983.3C237.2 1979.0 240.3 1973.0 242.7 1966.8C245.1 1960.6 247.0 1954.5 248.9 1946.2C250.8 1938.0 252.5 1924.9 254.0 1917.3C255.5 1909.7 256.9 1904.1 258.1 1900.8C259.3 1897.5 260.0 1897.0 261.2 1897.7C262.4 1898.4 263.7 1901.6 265.4 1904.9C267.1 1908.2 269.3 1913.5 271.5 1917.3C273.7 1921.1 276.4 1924.8 278.8 1927.6C281.2 1930.3 283.9 1933.1 286.0 1933.8C288.1 1934.5 289.4 1933.9 291.1 1931.8C292.8 1929.7 294.4 1926.2 296.3 1921.4C298.2 1916.6 300.4 1909.1 302.5 1902.9C304.6 1896.7 306.6 1891.2 308.7 1884.3C310.8 1877.4 312.8 1870.2 314.8 1861.6C316.9 1853.0 318.9 1841.7 321.0 1832.8C323.1 1823.9 325.1 1815.6 327.2 1808.0C329.3 1800.4 331.5 1792.9 333.4 1787.4C335.3 1781.9 337.1 1777.6 338.6 1775.1C340.2 1772.6 341.3 1771.6 342.7 1772.6C344.1 1773.6 345.2 1776.3 346.8 1781.2C348.4 1786.1 350.4 1795.7 352.0 1801.9C353.6 1808.1 354.7 1814.6 356.1 1818.4C357.5 1822.2 358.6 1824.7 360.2 1824.5C361.8 1824.3 363.3 1820.7 365.4 1817.3C367.5 1813.9 371.0 1807.5 372.6 1803.9C374.2 1800.3 373.9 1800.5 375.3 1795.5C376.7 1790.5 379.0 1781.5 380.8 1773.7C382.6 1765.9 384.6 1756.4 386.2 1748.6C387.8 1740.8 389.3 1732.6 390.6 1726.8C391.9 1721.0 392.9 1717.1 393.9 1713.7C394.9 1710.3 395.9 1708.0 396.6 1706.6C397.3 1705.2 397.6 1704.9 398.2 1705.1C398.8 1705.3 399.6 1705.5 400.4 1707.7C401.2 1709.9 402.2 1713.0 403.2 1718.0C404.2 1723.0 405.4 1731.2 406.4 1737.7C407.4 1744.2 408.3 1751.3 409.2 1757.3C410.1 1763.3 411.1 1769.7 411.9 1773.7C412.7 1777.7 413.3 1779.7 414.1 1781.3C414.9 1782.9 415.9 1783.7 416.8 1783.5C417.7 1783.3 418.5 1782.8 419.5 1780.2C420.5 1777.7 421.7 1771.8 422.8 1768.2C423.9 1764.6 425.0 1760.5 426.1 1758.4C427.2 1756.3 428.3 1755.7 429.4 1755.7C430.5 1755.7 431.4 1756.0 432.6 1758.4C433.8 1760.9 435.0 1765.5 436.4 1770.4C437.8 1775.3 439.4 1782.0 440.8 1787.9C442.2 1793.8 443.2 1800.4 444.7 1806.0C446.2 1811.6 448.2 1817.6 449.9 1821.4C451.6 1825.2 453.4 1827.0 455.1 1828.7C456.8 1830.4 458.5 1830.1 460.2 1831.8C461.9 1833.5 463.7 1835.0 465.4 1839.0C467.1 1843.0 468.6 1849.3 470.5 1855.5C472.4 1861.7 474.6 1869.9 476.7 1876.1C478.8 1882.3 481.0 1888.0 482.9 1892.6C484.8 1897.2 486.3 1901.1 488.0 1903.9C489.7 1906.7 491.5 1908.9 493.2 1909.5C494.9 1910.1 496.8 1908.1 498.4 1907.4C499.9 1906.7 500.8 1905.0 502.5 1905.4C504.2 1905.9 506.3 1907.9 508.7 1910.1C511.1 1912.3 514.3 1916.9 516.9 1918.4C519.5 1919.9 522.0 1918.2 524.1 1919.0C526.2 1919.8 527.4 1921.2 529.3 1923.5C531.2 1925.8 533.5 1930.5 535.5 1932.8C537.5 1935.0 538.8 1934.9 541.0 1937.0C543.2 1939.1 546.0 1941.3 548.7 1945.2C551.5 1949.1 554.2 1956.5 557.5 1960.5C560.8 1964.5 564.4 1966.3 568.4 1969.2C572.4 1972.1 577.1 1975.5 581.5 1978.0C585.9 1980.5 590.2 1982.8 594.6 1984.5C599.0 1986.2 604.1 1987.8 607.7 1988.2C611.3 1988.6 613.5 1988.4 616.4 1986.7C619.3 1985.0 622.5 1982.4 625.1 1978.0C627.7 1973.6 629.7 1967.4 631.7 1960.5C633.7 1953.6 635.5 1943.0 637.1 1936.5C638.7 1930.0 640.0 1924.7 641.5 1921.2C643.0 1917.7 644.3 1917.0 645.9 1915.7C647.5 1914.4 649.5 1914.5 651.3 1913.6C653.1 1912.7 655.0 1912.1 656.8 1910.3C658.6 1908.5 660.5 1905.5 662.3 1902.6C664.1 1899.7 666.1 1894.9 667.7 1892.8C669.3 1890.7 670.7 1890.0 672.1 1890.2C673.5 1890.4 674.6 1890.6 676.4 1893.9C678.2 1897.2 680.8 1904.7 683.0 1910.3C685.2 1915.9 687.5 1922.6 689.5 1927.7C691.5 1932.8 693.2 1938.1 695.0 1940.8C696.8 1943.5 698.7 1944.4 700.5 1944.1C702.3 1943.8 704.3 1940.2 705.9 1938.7C707.5 1937.2 708.8 1935.2 710.3 1935.4C711.8 1935.6 712.9 1937.4 714.7 1939.8C716.5 1942.2 718.7 1946.5 721.2 1949.6C723.7 1952.7 727.0 1956.0 729.9 1958.3C732.8 1960.5 735.4 1962.0 738.7 1963.1C742.0 1964.2 746.3 1963.7 749.6 1964.9C752.9 1966.1 755.4 1968.7 758.3 1970.3C761.2 1971.9 764.1 1973.7 767.0 1974.7C769.9 1975.7 772.9 1976.2 775.8 1976.2C778.7 1976.2 782.0 1976.1 784.5 1974.7C787.0 1973.3 789.1 1971.2 791.1 1968.1C793.1 1965.0 794.7 1959.9 796.5 1956.1C798.3 1952.3 800.2 1948.1 802.0 1945.2C803.8 1942.3 805.8 1941.2 807.4 1938.7C809.0 1936.2 810.4 1934.3 811.8 1929.9C813.1 1925.5 814.2 1918.3 815.5 1912.5C816.8 1906.7 818.1 1899.2 819.4 1895.0C820.7 1890.8 821.9 1888.6 823.4 1887.4C824.9 1886.2 826.3 1887.8 828.2 1888.0C830.1 1888.2 833.1 1887.4 834.7 1888.9C836.3 1890.4 836.7 1893.3 838.0 1897.2C839.3 1901.1 840.8 1907.8 842.4 1912.5C844.0 1917.2 846.0 1921.8 847.8 1925.6C849.6 1929.4 851.3 1933.0 853.3 1935.4C855.3 1937.8 857.6 1939.2 859.8 1939.8C862.0 1940.3 864.2 1940.0 866.4 1938.7C868.6 1937.4 871.0 1936.1 872.9 1932.1C874.8 1928.1 876.4 1922.3 877.9 1914.7C879.4 1907.1 880.5 1896.9 881.7 1886.3C882.9 1875.7 883.8 1862.9 884.9 1851.3C886.0 1839.7 886.9 1828.4 888.2 1816.4C889.5 1804.4 891.2 1789.0 892.6 1779.3C894.0 1769.6 895.6 1763.1 896.9 1758.5C898.1 1753.9 899.1 1751.5 900.1 1751.8C901.1 1752.1 901.8 1754.0 902.9 1760.6C904.0 1767.1 905.2 1780.2 906.6 1791.1C908.0 1802.0 909.4 1815.5 911.0 1826.1C912.6 1836.6 914.1 1845.3 916.0 1854.4C917.9 1863.5 920.1 1872.6 922.6 1880.6C925.1 1888.6 928.0 1896.1 931.3 1902.5C934.6 1908.9 938.4 1914.6 942.2 1918.8C946.0 1923.0 950.4 1925.7 954.2 1927.6C958.0 1929.5 961.8 1930.2 965.1 1930.2C968.4 1930.2 970.6 1930.0 973.9 1927.6C977.2 1925.2 981.2 1920.1 984.8 1915.6C988.4 1911.0 992.6 1905.8 995.7 1900.3C998.8 1894.8 1001.1 1888.1 1003.3 1882.8C1005.5 1877.5 1007.1 1871.8 1008.8 1868.6C1010.5 1865.4 1012.1 1863.6 1013.6 1863.6C1015.1 1863.6 1015.9 1866.5 1017.5 1868.6C1019.1 1870.7 1020.8 1874.2 1023.0 1876.3C1025.2 1878.4 1027.5 1880.0 1030.6 1881.1C1033.7 1882.2 1037.6 1882.1 1041.6 1882.8C1045.6 1883.5 1050.7 1885.2 1054.7 1885.4C1058.7 1885.6 1062.3 1884.4 1065.6 1883.9C1068.9 1883.4 1071.0 1882.2 1074.3 1882.4C1077.6 1882.6 1081.8 1883.1 1085.2 1885.0C1088.7 1886.9 1091.5 1891.3 1095.0 1893.7C1098.5 1896.1 1102.9 1899.0 1106.0 1899.2C1109.1 1899.4 1110.9 1897.3 1113.6 1894.8C1116.3 1892.2 1119.4 1887.7 1122.3 1883.9C1125.2 1880.1 1128.4 1874.6 1131.1 1871.9C1133.8 1869.2 1136.2 1868.0 1138.7 1867.5C1141.2 1867.0 1143.9 1867.7 1146.3 1868.6C1148.7 1869.5 1151.2 1873.2 1152.9 1873.0C1154.7 1872.8 1155.5 1871.7 1156.8 1867.5C1158.1 1863.3 1159.3 1853.7 1160.5 1847.9C1161.7 1842.1 1162.9 1835.7 1164.2 1832.6C1165.5 1829.5 1167.0 1828.6 1168.6 1829.3C1170.2 1830.0 1171.7 1833.3 1173.6 1837.0C1175.5 1840.7 1177.8 1846.8 1180.2 1851.2C1182.6 1855.6 1185.2 1860.3 1187.8 1863.2C1190.3 1866.1 1193.1 1868.8 1195.5 1868.6C1197.9 1868.4 1199.8 1865.9 1202.0 1862.1C1204.2 1858.3 1206.8 1852.4 1208.6 1845.7C1210.4 1839.0 1211.6 1830.1 1212.9 1821.7C1214.2 1813.3 1215.2 1802.1 1216.2 1795.5C1217.2 1788.9 1218.2 1784.2 1219.0 1782.0C1219.8 1779.8 1220.5 1780.5 1221.2 1782.5C1221.9 1784.5 1222.2 1788.9 1223.3 1794.2C1224.4 1799.5 1226.0 1809.7 1227.7 1814.1C1229.4 1818.5 1231.5 1821.0 1233.3 1820.8C1235.1 1820.6 1237.0 1818.0 1238.8 1813.0C1240.6 1808.0 1242.6 1796.6 1244.3 1790.9C1246.0 1785.2 1247.4 1780.9 1248.8 1778.7C1250.2 1776.5 1251.3 1776.5 1252.8 1777.6C1254.3 1778.7 1255.7 1782.8 1257.6 1785.3C1259.5 1787.8 1261.7 1790.7 1264.3 1792.4C1266.9 1794.1 1270.1 1794.7 1273.1 1795.7C1276.0 1796.7 1279.0 1797.6 1282.0 1798.6C1285.0 1799.6 1288.4 1801.7 1290.8 1801.9C1293.2 1802.1 1294.4 1802.1 1296.4 1799.7C1298.4 1797.3 1301.0 1791.9 1303.0 1787.5C1305.0 1783.1 1306.7 1777.2 1308.5 1773.2C1310.3 1769.2 1312.4 1765.2 1314.1 1763.2C1315.8 1761.2 1317.0 1760.9 1318.5 1761.4C1320.0 1762.0 1321.1 1763.4 1322.9 1766.5C1324.8 1769.6 1327.2 1775.9 1329.6 1779.8C1332.0 1783.7 1334.5 1786.6 1337.3 1789.8C1340.1 1793.0 1343.2 1796.7 1346.2 1799.1C1349.2 1801.5 1352.2 1803.3 1355.0 1804.2C1357.8 1805.1 1360.0 1805.1 1362.8 1804.2C1365.6 1803.3 1368.6 1800.6 1371.6 1798.6C1374.5 1796.6 1377.7 1793.7 1380.5 1792.0C1383.3 1790.3 1385.8 1789.2 1388.2 1788.7C1390.6 1788.2 1392.7 1788.2 1394.9 1789.3C1397.1 1790.4 1399.3 1793.4 1401.5 1795.3C1403.7 1797.2 1406.1 1799.9 1408.1 1800.4C1410.1 1800.9 1411.8 1798.5 1413.7 1798.2C1415.6 1797.9 1417.4 1796.3 1419.2 1798.6C1421.0 1800.9 1422.7 1807.1 1424.7 1811.9C1426.7 1816.7 1429.0 1821.9 1431.4 1827.4C1433.8 1832.9 1436.5 1839.6 1439.1 1845.1C1441.7 1850.6 1444.5 1855.8 1446.9 1860.6C1449.3 1865.4 1451.7 1871.2 1453.5 1873.9C1455.3 1876.6 1456.4 1876.9 1457.9 1876.5C1459.4 1876.1 1460.7 1875.1 1462.4 1871.7C1464.1 1868.3 1466.1 1861.0 1467.9 1856.2C1469.7 1851.4 1471.6 1845.9 1473.4 1842.9C1475.2 1840.0 1477.0 1839.4 1479.0 1838.5C1481.0 1837.6 1483.6 1836.7 1485.6 1837.4C1487.6 1838.1 1489.2 1839.8 1491.1 1842.9C1492.9 1846.0 1495.0 1853.2 1496.7 1856.2C1498.4 1859.2 1499.4 1859.7 1501.1 1861.0C1502.8 1862.3 1504.8 1861.8 1506.6 1863.9C1508.4 1866.1 1510.3 1870.2 1512.2 1873.9C1514.1 1877.6 1515.9 1882.8 1517.7 1886.0C1519.5 1889.2 1521.5 1893.2 1523.2 1893.4C1524.9 1893.6 1526.2 1890.1 1527.7 1887.2C1529.2 1884.3 1530.8 1878.4 1532.1 1876.1C1533.4 1873.8 1534.1 1873.1 1535.4 1873.4C1536.7 1873.7 1538.5 1878.2 1539.8 1877.9C1541.1 1877.6 1542.1 1875.0 1543.2 1871.7C1544.3 1868.5 1545.2 1861.6 1546.5 1858.4C1547.8 1855.2 1549.4 1853.2 1550.9 1852.8C1552.4 1852.4 1553.5 1853.8 1555.3 1856.2C1557.1 1858.6 1560.0 1862.8 1562.0 1867.2C1564.0 1871.6 1565.8 1877.2 1567.5 1882.7C1569.2 1888.2 1570.8 1895.6 1571.9 1900.4C1573.0 1905.2 1573.0 1905.7 1574.2 1911.5C1575.4 1917.3 1578.2 1931.1 1579.0 1935.0"/>
<path stroke="#ff0000" d="M222.0 1978.0C222.7 1977.5 223.8 1977.3 226.2 1975.1C228.6 1972.9 233.4 1969.2 236.5 1964.7C239.6 1960.2 242.3 1955.4 244.7 1948.2C247.1 1941.0 249.0 1929.6 250.9 1921.4C252.8 1913.2 254.6 1903.7 256.1 1898.8C257.7 1893.9 258.8 1892.5 260.2 1892.2C261.6 1891.9 262.6 1893.6 264.3 1896.7C266.0 1899.8 268.3 1907.1 270.5 1911.1C272.7 1915.0 275.3 1918.4 277.7 1920.4C280.1 1922.4 282.8 1923.4 284.9 1922.9C287.0 1922.4 288.4 1920.6 290.1 1917.3C291.8 1914.0 293.4 1908.7 295.3 1902.9C297.2 1897.1 299.2 1889.2 301.4 1882.3C303.6 1875.4 306.5 1869.5 308.7 1861.6C310.9 1853.7 312.8 1844.1 314.8 1834.8C316.9 1825.5 318.9 1818.0 321.0 1806.0C323.1 1794.0 325.5 1773.5 327.3 1762.8C329.1 1752.1 330.4 1746.6 331.7 1742.0C333.0 1737.4 333.9 1736.5 334.9 1735.0C335.9 1733.5 336.8 1733.1 337.7 1733.1C338.6 1733.1 339.4 1733.2 340.4 1735.0C341.4 1736.8 342.6 1739.6 343.7 1744.2C344.8 1748.8 345.8 1756.1 346.9 1762.8C348.0 1769.5 349.0 1776.4 350.2 1784.6C351.4 1792.8 352.7 1805.2 354.0 1812.2C355.3 1819.2 356.9 1823.7 358.1 1826.6C359.3 1829.5 359.8 1830.4 361.2 1829.7C362.6 1829.0 364.3 1826.1 366.4 1822.5C368.5 1818.9 371.4 1812.1 373.6 1808.0C375.8 1803.9 378.1 1800.3 379.8 1797.7C381.6 1795.1 382.9 1794.8 384.1 1792.3C385.4 1789.8 386.3 1786.4 387.3 1782.4C388.3 1778.4 389.2 1773.8 390.1 1768.2C391.0 1762.6 392.0 1754.0 392.8 1748.6C393.6 1743.1 394.3 1739.0 395.0 1735.5C395.7 1732.0 396.6 1729.2 397.2 1727.9C397.8 1726.6 398.2 1726.6 398.8 1727.9C399.4 1729.2 400.2 1731.0 401.0 1735.5C401.8 1740.0 402.8 1748.7 403.7 1755.1C404.6 1761.5 405.5 1767.9 406.4 1773.7C407.3 1779.5 408.3 1785.2 409.2 1790.1C410.1 1795.0 410.6 1798.8 411.5 1803.0C412.4 1807.2 413.7 1813.2 414.8 1815.3C415.9 1817.3 416.7 1816.8 417.9 1815.3C419.1 1813.8 420.7 1808.9 422.1 1806.0C423.5 1803.1 425.0 1798.7 426.2 1797.7C427.4 1796.7 428.1 1797.0 429.3 1799.8C430.5 1802.5 431.8 1807.7 433.4 1814.2C434.9 1820.7 436.9 1831.4 438.6 1839.0C440.3 1846.6 442.0 1854.1 443.7 1859.6C445.4 1865.1 447.2 1868.9 448.9 1872.0C450.6 1875.1 452.1 1876.7 454.0 1878.1C455.9 1879.5 458.3 1878.8 460.2 1880.2C462.1 1881.6 463.5 1883.0 465.4 1886.4C467.3 1889.8 469.3 1895.7 471.5 1900.8C473.7 1905.9 476.6 1912.5 478.8 1917.3C481.0 1922.1 483.0 1927.0 484.9 1929.7C486.8 1932.5 488.4 1933.6 490.1 1933.8C491.8 1934.0 493.6 1932.2 495.3 1930.7C497.0 1929.2 498.9 1925.0 500.4 1924.5C501.9 1924.0 502.8 1925.9 504.5 1927.6C506.2 1929.3 508.5 1932.7 510.7 1934.8C512.9 1936.9 515.5 1938.6 517.9 1940.0C520.3 1941.4 522.6 1941.5 525.2 1943.1C527.8 1944.6 530.7 1947.6 533.4 1949.3C536.1 1951.0 538.7 1951.7 541.6 1953.4C544.5 1955.1 547.5 1957.6 550.9 1959.4C554.3 1961.2 557.4 1963.0 561.8 1964.4C566.2 1965.9 572.0 1966.9 577.1 1968.1C582.2 1969.3 587.7 1970.7 592.4 1971.4C597.1 1972.1 601.7 1972.7 605.5 1972.5C609.3 1972.3 612.4 1971.9 615.3 1970.3C618.2 1968.7 620.6 1966.5 623.0 1962.7C625.4 1958.9 627.7 1953.2 629.5 1947.4C631.3 1941.6 632.4 1934.2 633.9 1927.7C635.4 1921.2 636.9 1912.3 638.2 1908.1C639.5 1903.9 640.4 1903.7 641.5 1902.6C642.6 1901.5 643.5 1901.0 644.8 1901.6C646.1 1902.1 647.8 1904.6 649.2 1905.9C650.7 1907.2 651.9 1909.4 653.5 1909.2C655.1 1909.0 657.2 1906.8 659.0 1904.8C660.8 1902.8 662.8 1899.8 664.4 1897.2C666.0 1894.7 667.5 1891.0 668.8 1889.5C670.1 1888.0 671.0 1887.8 672.1 1888.5C673.2 1889.2 674.0 1890.3 675.4 1893.9C676.8 1897.5 678.8 1904.7 680.8 1910.3C682.8 1915.9 685.2 1922.8 687.4 1927.7C689.6 1932.6 691.9 1937.4 693.9 1939.8C695.9 1942.2 697.6 1942.5 699.4 1941.9C701.2 1941.4 703.2 1937.8 704.8 1936.5C706.4 1935.2 707.7 1934.1 709.2 1934.3C710.7 1934.5 711.6 1935.4 713.6 1937.6C715.6 1939.8 718.5 1944.7 721.2 1947.4C723.9 1950.1 727.0 1952.3 729.9 1953.9C732.8 1955.5 735.4 1956.2 738.7 1956.8C742.0 1957.4 746.3 1957.1 749.6 1957.7C752.9 1958.3 755.4 1959.6 758.3 1960.5C761.2 1961.4 764.1 1962.5 767.0 1963.1C769.9 1963.6 773.1 1963.9 775.8 1963.8C778.5 1963.7 781.0 1963.5 783.4 1962.2C785.8 1960.9 788.0 1958.9 790.0 1956.1C792.0 1953.3 793.8 1948.1 795.4 1945.2C797.0 1942.3 798.2 1940.2 799.8 1938.7C801.4 1937.2 803.6 1937.4 805.2 1936.5C806.8 1935.6 808.1 1935.8 809.6 1933.2C811.1 1930.7 812.7 1926.5 814.0 1921.2C815.3 1915.9 816.2 1907.8 817.3 1901.6C818.4 1895.4 819.4 1887.9 820.5 1884.1C821.6 1880.3 822.5 1879.0 823.8 1878.6C825.1 1878.2 826.6 1881.3 828.2 1881.9C829.8 1882.5 832.2 1881.6 833.6 1882.3C835.0 1883.0 835.6 1883.4 836.9 1886.3C838.2 1889.2 839.7 1895.0 841.3 1899.4C842.9 1903.8 844.9 1908.9 846.7 1912.5C848.5 1916.1 850.2 1919.0 852.2 1921.2C854.2 1923.4 856.5 1924.9 858.7 1925.6C860.9 1926.3 863.1 1926.3 865.3 1925.6C867.5 1924.9 869.8 1924.1 871.8 1921.2C873.8 1918.3 875.8 1914.3 877.3 1908.1C878.8 1901.9 879.5 1893.9 880.6 1884.1C881.7 1874.3 882.7 1860.8 883.8 1849.2C884.9 1837.6 885.8 1825.9 887.1 1814.2C888.4 1802.5 890.0 1788.8 891.5 1779.3C893.0 1769.8 894.5 1762.0 895.8 1757.5C897.1 1753.0 898.2 1752.0 899.2 1752.5C900.2 1753.0 900.8 1754.2 901.8 1760.6C902.8 1767.0 903.8 1780.2 905.1 1791.1C906.4 1802.0 907.9 1815.5 909.5 1826.1C911.1 1836.6 912.7 1845.7 914.9 1854.4C917.1 1863.1 919.7 1871.2 922.6 1878.5C925.5 1885.8 929.0 1892.6 932.4 1898.1C935.8 1903.5 939.7 1907.9 943.3 1911.2C946.9 1914.5 950.6 1916.3 954.2 1917.7C957.8 1919.1 961.5 1919.7 965.1 1919.5C968.8 1919.3 972.5 1918.6 976.1 1916.7C979.8 1914.8 983.5 1911.6 987.0 1907.9C990.5 1904.2 994.1 1899.3 996.8 1894.8C999.5 1890.2 1001.3 1885.3 1003.3 1880.6C1005.3 1875.9 1007.1 1869.5 1008.8 1866.4C1010.5 1863.3 1012.0 1862.3 1013.6 1862.1C1015.2 1861.9 1016.5 1864.1 1018.6 1865.4C1020.7 1866.7 1022.8 1869.3 1026.3 1869.7C1029.8 1870.1 1034.7 1867.8 1039.4 1868.0C1044.1 1868.2 1050.3 1870.9 1054.7 1870.8C1059.1 1870.7 1062.3 1868.4 1065.6 1867.5C1068.9 1866.6 1071.4 1865.2 1074.3 1865.4C1077.2 1865.6 1079.7 1866.8 1083.0 1868.6C1086.3 1870.4 1090.2 1874.1 1093.9 1876.3C1097.6 1878.5 1101.8 1881.3 1104.9 1881.7C1108.0 1882.1 1109.8 1880.7 1112.5 1878.5C1115.2 1876.3 1118.5 1872.1 1121.2 1868.6C1123.9 1865.1 1126.5 1860.3 1128.9 1857.7C1131.3 1855.1 1132.9 1853.2 1135.4 1852.7C1138.0 1852.2 1141.5 1853.8 1144.2 1854.4C1146.9 1855.1 1149.8 1857.1 1151.8 1856.6C1153.8 1856.1 1154.9 1854.8 1156.2 1851.2C1157.5 1847.6 1158.2 1839.2 1159.4 1834.8C1160.6 1830.4 1162.0 1827.0 1163.4 1825.0C1164.8 1823.0 1166.2 1822.3 1167.7 1822.8C1169.2 1823.3 1170.6 1825.1 1172.5 1828.2C1174.4 1831.3 1176.7 1837.3 1179.1 1841.3C1181.5 1845.3 1184.2 1849.8 1186.7 1852.3C1189.2 1854.8 1192.0 1856.8 1194.4 1856.6C1196.8 1856.4 1198.7 1854.3 1200.9 1851.2C1203.1 1848.1 1205.7 1843.8 1207.5 1838.1C1209.3 1832.4 1210.5 1825.1 1211.8 1817.3C1213.1 1809.5 1214.0 1797.8 1215.1 1791.1C1216.2 1784.4 1217.4 1778.8 1218.4 1776.9C1219.4 1775.1 1220.2 1776.8 1221.0 1780.0C1221.8 1783.2 1222.2 1790.0 1223.3 1796.4C1224.4 1802.8 1226.0 1813.6 1227.7 1818.5C1229.4 1823.4 1231.5 1826.0 1233.3 1825.6C1235.1 1825.2 1237.0 1821.9 1238.8 1816.3C1240.6 1810.7 1242.6 1798.3 1244.3 1792.0C1246.0 1785.7 1247.4 1781.2 1248.8 1778.7C1250.2 1776.2 1251.5 1775.8 1252.8 1776.9C1254.1 1778.0 1255.0 1782.4 1256.5 1785.3C1258.0 1788.2 1259.9 1792.5 1262.1 1794.2C1264.3 1795.9 1266.8 1795.6 1269.8 1795.7C1272.8 1795.8 1276.7 1794.7 1279.8 1794.9C1282.9 1795.1 1286.0 1796.8 1288.6 1797.1C1291.2 1797.3 1293.1 1797.6 1295.3 1796.4C1297.5 1795.2 1299.7 1792.6 1301.9 1789.8C1304.1 1787.0 1306.5 1781.9 1308.5 1779.8C1310.5 1777.7 1312.4 1776.7 1314.1 1776.9C1315.8 1777.1 1316.8 1778.4 1318.5 1780.9C1320.2 1783.4 1322.0 1788.7 1324.0 1792.0C1326.0 1795.3 1328.1 1798.0 1330.7 1800.8C1333.3 1803.6 1336.5 1806.4 1339.5 1808.6C1342.5 1810.8 1345.5 1812.7 1348.4 1813.7C1351.4 1814.7 1354.2 1815.1 1357.2 1814.6C1360.2 1814.1 1363.1 1812.9 1366.1 1810.8C1369.0 1808.7 1372.0 1805.0 1374.9 1801.9C1377.9 1798.8 1381.2 1794.7 1383.8 1792.0C1386.4 1789.3 1388.4 1787.0 1390.4 1785.8C1392.4 1784.6 1394.0 1784.4 1396.0 1784.9C1398.0 1785.4 1400.2 1787.3 1402.6 1788.7C1405.0 1790.1 1407.8 1792.0 1410.4 1793.1C1413.0 1794.2 1415.9 1794.0 1418.1 1795.3C1420.3 1796.6 1421.6 1797.7 1423.6 1800.8C1425.6 1803.9 1427.9 1810.0 1430.3 1814.1C1432.7 1818.2 1435.4 1821.5 1438.0 1825.2C1440.6 1828.9 1443.4 1832.9 1445.8 1836.2C1448.2 1839.5 1450.4 1843.2 1452.4 1845.1C1454.4 1846.9 1456.2 1848.0 1457.9 1847.3C1459.6 1846.6 1460.9 1844.0 1462.4 1840.7C1463.9 1837.4 1465.3 1831.1 1466.8 1827.4C1468.3 1823.7 1469.3 1820.3 1471.2 1818.5C1473.1 1816.7 1475.7 1817.5 1477.9 1816.8C1480.1 1816.1 1482.7 1813.8 1484.5 1814.1C1486.3 1814.4 1487.2 1815.5 1488.9 1818.5C1490.6 1821.5 1492.7 1828.5 1494.5 1831.8C1496.3 1835.1 1498.0 1836.8 1500.0 1838.5C1502.0 1840.2 1504.4 1840.0 1506.6 1841.8C1508.8 1843.6 1511.3 1846.9 1513.3 1849.5C1515.3 1852.1 1517.2 1855.8 1518.8 1857.3C1520.4 1858.8 1521.3 1859.7 1522.8 1858.4C1524.3 1857.1 1526.0 1852.5 1527.7 1849.5C1529.4 1846.5 1531.4 1843.1 1533.2 1840.7C1535.0 1838.3 1536.5 1836.3 1538.7 1835.1C1540.9 1833.9 1543.9 1833.7 1546.5 1833.4C1549.1 1833.1 1552.0 1832.7 1554.2 1833.4C1556.4 1834.1 1558.0 1834.7 1559.8 1837.4C1561.6 1840.1 1563.6 1845.3 1565.3 1849.5C1567.0 1853.7 1568.4 1859.1 1569.7 1862.8C1571.0 1866.5 1571.5 1867.2 1573.0 1871.7C1574.5 1876.2 1578.0 1887.0 1579.0 1890.0"/>
</g>
<path d="M243.7 2040.5 v-14.5M261.7 2040.5 v-14.5M279.7 2040.5 v-14.5M297.7 2040.5 v-14.5M315.7 2040.5 v-26.0M333.6 2040.5 v-14.5M351.6 2040.5 v-14.5M369.6 2040.5 v-14.5M387.6 2040.5 v-14.5M405.6 2040.5 v-14.5M423.6 2040.5 v-14.5M441.6 2040.5 v-14.5M459.6 2040.5 v-14.5M477.6 2040.5 v-14.5M495.6 2040.5 v-26.0M513.6 2040.5 v-14.5M531.5 2040.5 v-14.5M549.5 2040.5 v-14.5M567.5 2040.5 v-14.5M585.5 2040.5 v-14.5M603.5 2040.5 v-14.5M621.5 2040.5 v-14.5M639.5 2040.5 v-14.5M657.5 2040.5 v-14.5M675.5 2040.5 v-26.0M693.5 2040.5 v-14.5M711.4 2040.5 v-14.5M729.4 2040.5 v-14.5M747.4 2040.5 v-14.5M765.4 2040.5 v-14.5M783.4 2040.5 v-14.5M801.4 2040.5 v-14.5M819.4 2040.5 v-14.5M837.4 2040.5 v-14.5M855.4 2040.5 v-26.0M873.4 2040.5 v-14.5M891.4 2040.5 v-14.5M909.3 2040.5 v-14.5M927.3 2040.5 v-14.5M945.3 2040.5 v-14.5M963.3 2040.5 v-14.5M981.3 2040.5 v-14.5M999.3 2040.5 v-14.5M1017.3 2040.5 v-14.5M1035.3 2040.5 v-26.0M1053.3 2040.5 v-14.5M1071.3 2040.5 v-14.5M1089.3 2040.5 v-14.5M1107.2 2040.5 v-14.5M1125.2 2040.5 v-14.5M1143.2 2040.5 v-14.5M1161.2 2040.5 v-14.5M1179.2 2040.5 v-14.5M1197.2 2040.5 v-14.5M1215.2 2040.5 v-26.0M1233.2 2040.5 v-14.5M1251.2 2040.5 v-14.5M1269.2 2040.5 v-14.5M1287.1 2040.5 v-14.5M1305.1 2040.5 v-14.5M1323.1 2040.5 v-14.5M1341.1 2040.5 v-14.5M1359.1 2040.5 v-14.5M1377.1 2040.5 v-14.5M1395.1 2040.5 v-26.0M1413.1 2040.5 v-14.5M1431.1 2040.5 v-14.5M1449.1 2040.5 v-14.5M1467.1 2040.5 v-14.5M1485.0 2040.5 v-14.5M1503.0 2040.5 v-14.5M1521.0 2040.5 v-14.5M1539.0 2040.5 v-14.5M1557.0 2040.5 v-14.5M225.7 1845.5 h26.0M225.7 1650.5 h26.0M225.7 1943.0 h14.5M225.7 1748.0 h14.5" stroke="#000" stroke-width="3.8" fill="none"/>
<rect x="225.7" y="1553.0" width="1349.3" height="487.5" fill="none" stroke="#000" stroke-width="4.8"/>
<path d="M896 1611.7H1018.5" stroke="#0000ff" stroke-width="4.6" fill="none"/>
<path d="M896 1676.7H1018.5" stroke="#ff0000" stroke-width="4.6" fill="none"/>
<g>
<text x="891.0" y="92.0" font-size="65" text-anchor="middle">Gem before and after LAG</text>
<text transform="translate(296.7 684.8) scale(0.98 1.05)" font-size="53" text-anchor="middle">3700</text>
<text transform="translate(438.7 684.8) scale(0.98 1.05)" font-size="53" text-anchor="middle">3600</text>
<text transform="translate(580.8 684.8) scale(0.98 1.05)" font-size="53" text-anchor="middle">3500</text>
<text transform="translate(722.8 684.8) scale(0.98 1.05)" font-size="53" text-anchor="middle">3400</text>
<text transform="translate(864.8 684.8) scale(0.98 1.05)" font-size="53" text-anchor="middle">3300</text>
<text transform="translate(1006.9 684.8) scale(0.98 1.05)" font-size="53" text-anchor="middle">3200</text>
<text transform="translate(1148.9 684.8) scale(0.98 1.05)" font-size="53" text-anchor="middle">3100</text>
<text transform="translate(1290.9 684.8) scale(0.98 1.05)" font-size="53" text-anchor="middle">3000</text>
<text transform="translate(1433.0 684.8) scale(0.98 1.05)" font-size="53" text-anchor="middle">2900</text>
<text transform="translate(1575.0 684.8) scale(0.98 1.05)" font-size="53" text-anchor="middle">2800</text>
<text transform="translate(198.0 633.7) scale(0.98 1.05)" font-size="53" text-anchor="end">0.0</text>
<text transform="translate(198.0 390.1) scale(0.98 1.05)" font-size="53" text-anchor="end">0.1</text>
<text transform="translate(198.0 146.5) scale(0.98 1.05)" font-size="53" text-anchor="end">0.2</text>
<text x="900.5" y="766.5" font-size="65.2" text-anchor="middle">Wavenumber, cm<tspan font-size="38" dy="-30">-1</tspan></text>
<text transform="translate(95.0 373.9) rotate(-90)" font-size="58" text-anchor="middle">Absorbance</text>
<text transform="translate(324.5 242.5) scale(1.05 1.0)" font-size="82" text-anchor="middle">(a)</text>
<text x="692.0" y="217.3" font-size="72" text-anchor="start">NH</text>
<text transform="translate(793.5 240.3) scale(1.12 1.0)" font-size="40" text-anchor="start">2</text>
<text x="511.3" y="496.3" font-size="72" text-anchor="start">N-H</text>
<text x="953.5" y="265.0" font-size="64" text-anchor="start">1</text>
<text x="979.0" y="397.5" font-size="64" text-anchor="start">2</text>
<text x="895.0" y="497.0" font-size="53" text-anchor="start">(1) before LAG</text>
<text x="895.0" y="562.0" font-size="53" text-anchor="start">(2) after LAG</text>
<text transform="translate(338.1 1395.8) scale(0.98 1.05)" font-size="53" text-anchor="middle">1700</text>
<text transform="translate(563.0 1395.8) scale(0.98 1.05)" font-size="53" text-anchor="middle">1600</text>
<text transform="translate(787.9 1395.8) scale(0.98 1.05)" font-size="53" text-anchor="middle">1500</text>
<text transform="translate(1012.8 1395.8) scale(0.98 1.05)" font-size="53" text-anchor="middle">1400</text>
<text transform="translate(1237.7 1395.8) scale(0.98 1.05)" font-size="53" text-anchor="middle">1300</text>
<text transform="translate(1462.6 1395.8) scale(0.98 1.05)" font-size="53" text-anchor="middle">1200</text>
<text transform="translate(198.0 1344.7) scale(0.98 1.05)" font-size="53" text-anchor="end">0.0</text>
<text transform="translate(198.0 1150.3) scale(0.98 1.05)" font-size="53" text-anchor="end">0.2</text>
<text transform="translate(198.0 955.9) scale(0.98 1.05)" font-size="53" text-anchor="end">0.4</text>
<text x="900.5" y="1477.5" font-size="65.2" text-anchor="middle">Wavenumber, cm<tspan font-size="38" dy="-30">-1</tspan></text>
<text transform="translate(74.5 1085.5) rotate(-90)" font-size="58" text-anchor="middle">Absorbance</text>
<text transform="translate(323.5 924.0) scale(1.05 1.0)" font-size="82" text-anchor="middle">(b)</text>
<text x="272.5" y="1065.5" font-size="70" text-anchor="start">C=O</text>
<text x="579.0" y="1095.0" font-size="64" text-anchor="start">1</text>
<text x="251.0" y="1253.0" font-size="64" text-anchor="start">2</text>
<text x="970.0" y="945.5" font-size="53" text-anchor="start">(1) before LAG</text>
<text x="970.0" y="1010.0" font-size="53" text-anchor="start">(2) after LAG</text>
<text transform="translate(315.7 2108.3) scale(0.98 1.05)" font-size="53" text-anchor="middle">1100</text>
<text transform="translate(495.6 2108.3) scale(0.98 1.05)" font-size="53" text-anchor="middle">1000</text>
<text transform="translate(675.5 2108.3) scale(0.98 1.05)" font-size="53" text-anchor="middle">900</text>
<text transform="translate(855.4 2108.3) scale(0.98 1.05)" font-size="53" text-anchor="middle">800</text>
<text transform="translate(1035.3 2108.3) scale(0.98 1.05)" font-size="53" text-anchor="middle">700</text>
<text transform="translate(1215.2 2108.3) scale(0.98 1.05)" font-size="53" text-anchor="middle">600</text>
<text transform="translate(1395.1 2108.3) scale(0.98 1.05)" font-size="53" text-anchor="middle">500</text>
<text transform="translate(1575.0 2108.3) scale(0.98 1.05)" font-size="53" text-anchor="middle">400</text>
<text transform="translate(198.0 2057.2) scale(0.98 1.05)" font-size="53" text-anchor="end">0.0</text>
<text transform="translate(198.0 1862.2) scale(0.98 1.05)" font-size="53" text-anchor="end">0.3</text>
<text transform="translate(198.0 1667.2) scale(0.98 1.05)" font-size="53" text-anchor="end">0.6</text>
<text x="900.5" y="2190.0" font-size="65.2" text-anchor="middle">Wavenumber, cm<tspan font-size="38" dy="-30">-1</tspan></text>
<text transform="translate(82.5 1797.2) rotate(-90)" font-size="58" text-anchor="middle">Absorbance</text>
<text transform="translate(331.0 1647.0) scale(1.05 1.0)" font-size="82" text-anchor="middle">(c)</text>
<text x="476.5" y="1840.6" font-size="64" text-anchor="start">1</text>
<text x="1039.0" y="1845.5" font-size="64" text-anchor="start">2</text>
<text x="1029.0" y="1628.0" font-size="53" text-anchor="start">(1) before LAG</text>
<text x="1029.0" y="1692.5" font-size="53" text-anchor="start">(2) after LAG</text>
</g>
</svg></body></html>
